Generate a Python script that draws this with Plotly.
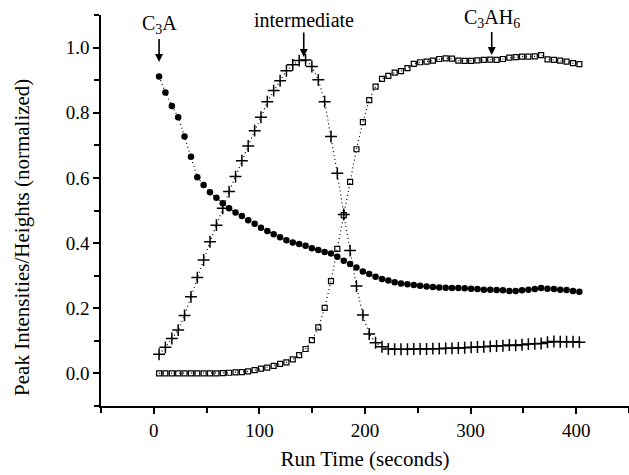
import plotly.graph_objects as go

# Run time (seconds) of each scan
run_time = [5.0, 11.0, 17.1, 23.1, 29.1, 35.2, 41.2, 47.2, 53.2, 59.3,
            65.3, 71.3, 77.4, 83.4, 89.4, 95.5, 101.5, 107.5, 113.5, 119.6,
            125.6, 131.6, 137.7, 143.7, 149.7, 155.8, 161.8, 167.8, 173.8, 179.9,
            185.9, 191.9, 198.0, 204.0, 210.0, 216.1, 222.1, 228.1, 234.1, 240.2,
            246.2, 252.2, 258.3, 264.3, 270.3, 276.4, 282.4, 288.4, 294.4, 300.5,
            306.5, 312.5, 318.6, 324.6, 330.6, 336.7, 342.7, 348.7, 354.7, 360.8,
            366.8, 372.8, 378.9, 384.9, 390.9, 397.0, 403.0]

c3a = [0.911, 0.862, 0.821, 0.786, 0.727, 0.665, 0.602, 0.578, 0.556, 0.539,
       0.522, 0.507, 0.494, 0.483, 0.470, 0.459, 0.447, 0.437, 0.427, 0.418,
       0.409, 0.402, 0.397, 0.392, 0.384, 0.379, 0.373, 0.368, 0.358, 0.346,
       0.336, 0.325, 0.313, 0.305, 0.297, 0.290, 0.285, 0.280, 0.276, 0.274,
       0.271, 0.269, 0.267, 0.265, 0.264, 0.263, 0.262, 0.262, 0.261, 0.260,
       0.259, 0.257, 0.257, 0.256, 0.255, 0.253, 0.253, 0.255, 0.257, 0.259,
       0.262, 0.260, 0.259, 0.257, 0.256, 0.253, 0.251]

intermediate = [0.059, 0.080, 0.107, 0.133, 0.178, 0.235, 0.294, 0.348, 0.404, 0.455,
                0.507, 0.558, 0.604, 0.653, 0.698, 0.745, 0.786, 0.834, 0.868, 0.898,
                0.929, 0.947, 0.960, 0.962, 0.942, 0.901, 0.834, 0.727, 0.614, 0.488,
                0.377, 0.268, 0.179, 0.121, 0.094, 0.082, 0.075, 0.074, 0.074, 0.074,
                0.075, 0.075, 0.075, 0.076, 0.076, 0.077, 0.077, 0.078, 0.079, 0.080,
                0.081, 0.082, 0.083, 0.084, 0.085, 0.087, 0.086, 0.088, 0.090, 0.091,
                0.092, 0.096, 0.098, 0.097, 0.097, 0.097, 0.096]

c3ah6 = [0.000, 0.000, 0.000, 0.000, 0.000, 0.000, 0.000, 0.000, 0.000, 0.000,
         0.001, 0.002, 0.003, 0.004, 0.006, 0.010, 0.015, 0.018, 0.023, 0.029,
         0.034, 0.043, 0.056, 0.075, 0.102, 0.141, 0.201, 0.283, 0.382, 0.486,
         0.588, 0.688, 0.771, 0.839, 0.880, 0.904, 0.913, 0.923, 0.928, 0.937,
         0.950, 0.955, 0.957, 0.960, 0.965, 0.967, 0.966, 0.960, 0.959, 0.959,
         0.961, 0.962, 0.963, 0.962, 0.965, 0.969, 0.971, 0.972, 0.972, 0.973,
         0.977, 0.964, 0.962, 0.960, 0.957, 0.952, 0.949]

x_ticks = [0, 100, 200, 300, 400]
y_ticks = [0.0, 0.2, 0.4, 0.6, 0.8, 1.0]
y_ticklabels = ["0.0", "0.2", "0.4", "0.6", "0.8", "1.0"]

# annotation labels: (text, run time, height of arrow tip)
labels = [("C<sub>3</sub>A", 5.0, 0.956),
          ("intermediate", 142.0, 0.971),
          ("C<sub>3</sub>AH<sub>6</sub>", 320.0, 0.977)]

FONT = "Liberation Serif, Times New Roman, serif"
DOTS = "1px,3px"

fig = go.Figure()
fig.add_trace(go.Scatter(
    x=run_time, y=c3a, mode="lines+markers", name="C3A",
    line=dict(color="black", width=1.2, dash=DOTS),
    marker=dict(symbol="circle", size=6.5, color="black"),
))
fig.add_trace(go.Scatter(
    x=run_time, y=intermediate, mode="lines+markers", name="intermediate",
    line=dict(color="black", width=1.2, dash=DOTS),
    marker=dict(symbol="cross-thin", size=8.5, color="black",
                line=dict(color="black", width=1.5)),
))
fig.add_trace(go.Scatter(
    x=run_time, y=c3ah6, mode="lines+markers", name="C3AH6",
    line=dict(color="black", width=1.2, dash=DOTS),
    marker=dict(symbol="square-open", size=5, color="black",
                line=dict(color="black", width=1.2)),
))

for text, xt, yt in labels:
    fig.add_annotation(
        x=xt, y=yt, text=text, showarrow=True,
        ax=0, ay=-37, arrowhead=2, arrowsize=1, arrowwidth=1.6,
        arrowcolor="black", standoff=0,
        font=dict(family=FONT, size=20, color="black"),
    )

fig.add_annotation(
    xref="paper", yref="paper", x=-0.1496, y=0.43,
    xanchor="center", yanchor="middle",
    text="Peak Intensities/Heights (normalized)", textangle=-90,
    showarrow=False, font=dict(family=FONT, size=21, color="black"),
)

fig.update_layout(
    width=629, height=475,
    margin=dict(l=101, r=0, t=15, b=69),
    paper_bgcolor="white", plot_bgcolor="white",
    showlegend=False,
    font=dict(family=FONT, size=19, color="black"),
)
fig.update_xaxes(
    range=[-50, 450], tickvals=x_ticks, ticktext=[str(v) for v in x_ticks],
    showline=True, linecolor="black", linewidth=1.6,
    ticks="outside", ticklen=6, tickwidth=1.6, tickcolor="black",
    minor=dict(ticks="outside", ticklen=5, tickwidth=1.6, tickcolor="black",
               dtick=50, tick0=0),
    showgrid=False, zeroline=False,
    title=dict(text="Run Time (seconds)", standoff=12,
               font=dict(family=FONT, size=21, color="black")),
    tickfont=dict(family=FONT, size=19, color="black"),
)
fig.update_yaxes(
    range=[-0.1, 1.1], tickvals=y_ticks, ticktext=y_ticklabels,
    showline=True, linecolor="black", linewidth=1.6,
    ticks="outside", ticklen=6, tickwidth=1.6, tickcolor="black",
    minor=dict(ticks="outside", ticklen=5, tickwidth=1.6, tickcolor="black",
               dtick=0.1, tick0=0),
    showgrid=False, zeroline=False,
    tickfont=dict(family=FONT, size=19, color="black"),
)

fig.write_html("out.html", config={"displayModeBar": False},
               post_script="document.body.style.margin='0';")
